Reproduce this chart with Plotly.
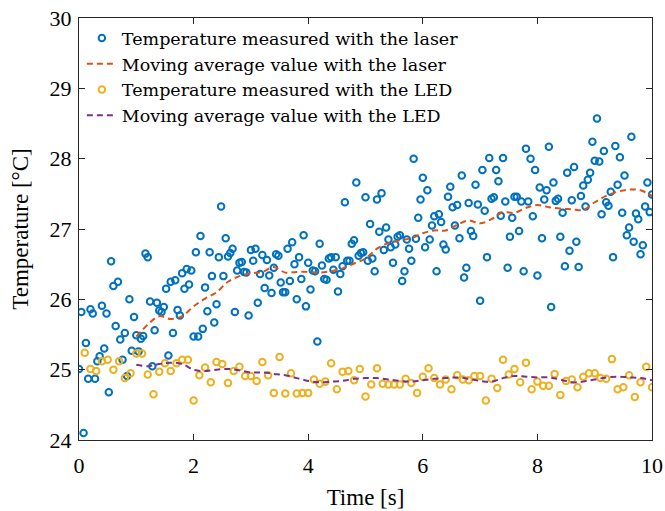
import numpy as np
import plotly.graph_objects as go

# ---------------- data ----------------
laser_t0, laser_dt = 0.0, 0.04   # sampling grid of the laser measurement (251 samples, 0..10 s)
laser_T = [
    25.01, 25.82, 24.10, 25.38, 24.87, 25.86, 25.80, 24.87, 25.12, 25.19, 25.91, 25.30, 25.80, 24.68, 26.54, 26.19,
    25.62, 26.25, 25.43, 25.14, 25.52, 24.91, 26.00, 25.27, 25.75, 25.49, 25.26, 25.44, 25.48, 26.65, 26.60, 25.97,
    25.05, 25.56, 25.95, 25.84,
    25.82, 25.89, 26.15, 25.20, 26.25, 25.52, 26.27, 25.85, 25.77, 26.37, 26.15, 26.43, 26.21, 26.41, 25.47, 26.67,
    25.47, 26.90, 25.58, 26.17, 25.83, 26.67, 26.33, 25.67, 25.93, 26.60, 27.32, 26.33, 26.87, 26.61, 26.66, 26.72,
    25.82, 26.41, 26.52,
    26.53, 26.39, 26.38, 25.77, 26.70, 26.55, 26.72, 25.95, 26.36, 26.63, 26.16, 26.56, 26.34, 26.09, 26.45, 26.64,
    26.62, 26.24, 26.10, 26.10, 26.72, 26.26, 26.81, 26.50, 26.00, 26.60, 26.29, 26.91, 25.90, 26.52, 26.14, 26.41,
    26.40, 25.40, 26.79, 26.48, 26.29,
    26.28, 26.58, 26.60, 26.42, 26.60, 26.11, 26.36, 26.47, 27.38, 26.55, 26.55, 26.79, 26.84, 27.66, 26.62, 26.66,
    26.67, 27.45, 26.55, 27.07, 26.58, 26.40, 27.42, 26.96, 27.51, 26.70, 27.02, 26.85, 26.74, 26.52, 26.78, 26.89,
    26.91, 26.26, 26.40, 26.85, 26.72,
    26.55, 28.00, 26.86, 27.16, 27.42, 27.73, 26.74, 27.55, 26.85, 27.05, 27.18, 26.40, 27.21, 27.10, 26.78, 26.71,
    27.46, 27.60, 27.31, 27.05, 27.34, 26.87, 27.76, 26.31, 26.45, 27.37, 26.97, 26.90, 27.63, 27.35, 25.98, 27.84,
    27.26, 26.60, 28.01, 27.43,
    27.45, 27.84, 27.68, 27.19, 28.01, 27.39, 26.45, 26.89, 27.16, 27.46, 27.46, 26.97, 27.39, 26.40, 28.14, 27.39,
    28.00, 27.18, 27.84, 26.34, 27.59, 26.87, 27.42, 27.55, 28.17, 25.89, 27.66, 27.40, 27.43, 26.89, 27.23, 26.47,
    27.80, 26.69, 27.41,
    27.88, 26.82, 26.46, 27.47, 27.62, 27.32, 27.70, 27.80, 28.24, 27.97, 28.57, 27.96, 27.21, 28.11, 27.38, 27.33,
    27.53, 26.60, 28.18, 27.63, 28.02, 27.23, 27.76, 26.91, 27.02, 28.31, 26.82, 27.22, 27.14, 26.64, 26.77, 27.32,
    27.66, 27.24, 27.49,
]

led_t0, led_dt = 0.1, 0.1        # sampling grid of the LED measurement (100 samples, 0.1..10 s)
led_T = [
    25.24, 25.01, 24.98, 25.12, 25.14, 25.00, 25.12, 24.88, 24.95, 25.23, 25.23, 24.93, 24.65, 24.97,
    25.09, 24.98, 25.09, 25.14, 25.14, 24.56, 24.92, 25.03, 24.82, 25.11, 25.08, 24.81, 24.98, 25.04,
    24.91, 24.91, 24.84, 25.11, 24.92, 24.67, 25.18, 24.66, 24.95, 24.66, 24.67, 24.67, 24.86, 24.80,
    24.83, 25.09, 24.72, 24.97, 24.98, 24.85, 25.01, 24.62, 24.79, 25.02, 24.80, 24.79, 24.79, 24.79, 24.87,
    24.81, 24.67, 24.90, 25.02, 24.88, 24.79, 24.86, 24.72, 24.92, 24.86, 24.85, 24.91, 24.91, 24.56,
    24.87, 24.74, 25.14, 24.93, 25.01, 24.82, 25.10, 24.72, 24.83, 24.77, 24.77, 24.94, 24.64, 24.84,
    24.86, 24.75, 24.90, 24.95, 24.95, 24.88, 24.87, 25.15, 24.72, 24.75, 24.92, 24.61, 24.82, 25.04, 24.75,
]

ma_t = [1.0, 1.2, 1.4, 1.6, 1.8, 2.0, 2.2, 2.4, 2.6, 2.8, 3.0, 3.2, 3.4, 3.6, 3.8, 4.0, 4.2, 4.4, 4.6, 4.8,
        5.0, 5.2, 5.4, 5.6, 5.8, 6.0, 6.2, 6.4, 6.6, 6.8, 7.0, 7.2, 7.4, 7.6, 7.8, 8.0, 8.2, 8.4, 8.6, 8.8,
        9.0, 9.2, 9.4, 9.6, 9.8, 10.0]
laser_ma = [25.47, 25.64, 25.76, 25.72, 25.76, 25.90, 26.01, 26.10, 26.25, 26.33, 26.37, 26.39, 26.46, 26.38,
            26.39, 26.39, 26.38, 26.40, 26.44, 26.51, 26.58, 26.72, 26.80, 26.84, 26.87, 26.94, 26.98, 26.98,
            27.06, 27.12, 27.08, 27.14, 27.24, 27.23, 27.30, 27.34, 27.31, 27.29, 27.28, 27.27, 27.38, 27.47,
            27.53, 27.56, 27.55, 27.47]
led_ma = [25.07, 25.05, 25.08, 25.10, 25.08, 25.00, 24.98, 25.00, 25.01, 24.99, 24.96, 24.96, 24.94, 24.92,
          24.88, 24.84, 24.82, 24.83, 24.84, 24.87, 24.88, 24.88, 24.86, 24.84, 24.83, 24.85, 24.87, 24.88,
          24.89, 24.87, 24.84, 24.83, 24.88, 24.91, 24.90, 24.89, 24.89, 24.86, 24.82, 24.83, 24.86, 24.89,
          24.90, 24.89, 24.88, 24.85]

names = ["Temperature measured with the laser", "Moving average value with the laser",
         "Temperature measured with the LED", "Moving average value with the LED"]
x_ticks = [0, 2, 4, 6, 8, 10]
y_ticks = [24, 25, 26, 27, 28, 29, 30]

# ---------------- figure ----------------
laser_t = laser_t0 + laser_dt * np.arange(len(laser_T))
led_t = led_t0 + led_dt * np.arange(len(led_T))

BLUE, RED, YEL, PUR = "#0072BD", "#D95319", "#EDB120", "#7E2F8E"
FONT = "Liberation Serif"
LFONT = "DejaVu Serif"
AX = "#262626"

fig = go.Figure()
fig.add_trace(go.Scatter(x=laser_t, y=laser_T, mode="markers", name=names[0],
                         marker=dict(symbol="circle-open", size=6.5, color=BLUE, line=dict(width=2, color=BLUE))))
fig.add_trace(go.Scatter(x=ma_t, y=laser_ma, mode="lines", name=names[1],
                         line=dict(color=RED, width=2, dash="6px,4px", shape="spline")))
fig.add_trace(go.Scatter(x=led_t, y=led_T, mode="markers", name=names[2],
                         marker=dict(symbol="circle-open", size=6.5, color=YEL, line=dict(width=2, color=YEL))))
fig.add_trace(go.Scatter(x=ma_t, y=led_ma, mode="lines", name=names[3],
                         line=dict(color=PUR, width=2, dash="6px,4px", shape="spline")))

axis_common = dict(showline=True, linecolor=AX, linewidth=1.3, mirror="ticks", ticks="inside",
                   ticklen=6, tickwidth=1.3, tickcolor=AX, showgrid=False, zeroline=False,
                   automargin=False,
                   tickfont=dict(family=FONT, size=22, color="#000"))
fig.update_xaxes(range=[0, 10], tickvals=x_ticks, ticktext=[str(v) for v in x_ticks],
                 ticklabelstandoff=5,
                 title=dict(text="Time [s]", font=dict(family=FONT, size=23, color="#000"), standoff=12),
                 **axis_common)
fig.update_yaxes(range=[24, 30], tickvals=y_ticks, ticktext=[str(v) for v in y_ticks],
                 ticklabelstandoff=2,
                 title=dict(text="Temperature [°C]", font=dict(family=FONT, size=23, color="#000"), standoff=14),
                 **axis_common)

fig.update_layout(
    width=665, height=511,
    margin=dict(l=79, r=13, t=18, b=71, autoexpand=False),
    paper_bgcolor="white", plot_bgcolor="white",
    showlegend=True,
    legend=dict(x=0.005, y=0.995, xanchor="left", yanchor="top", bgcolor="rgba(255,255,255,0)",
                font=dict(family=LFONT, size=17.5, color="#000"), itemwidth=30, tracegroupgap=0),
)

fig.write_html("out.html")
